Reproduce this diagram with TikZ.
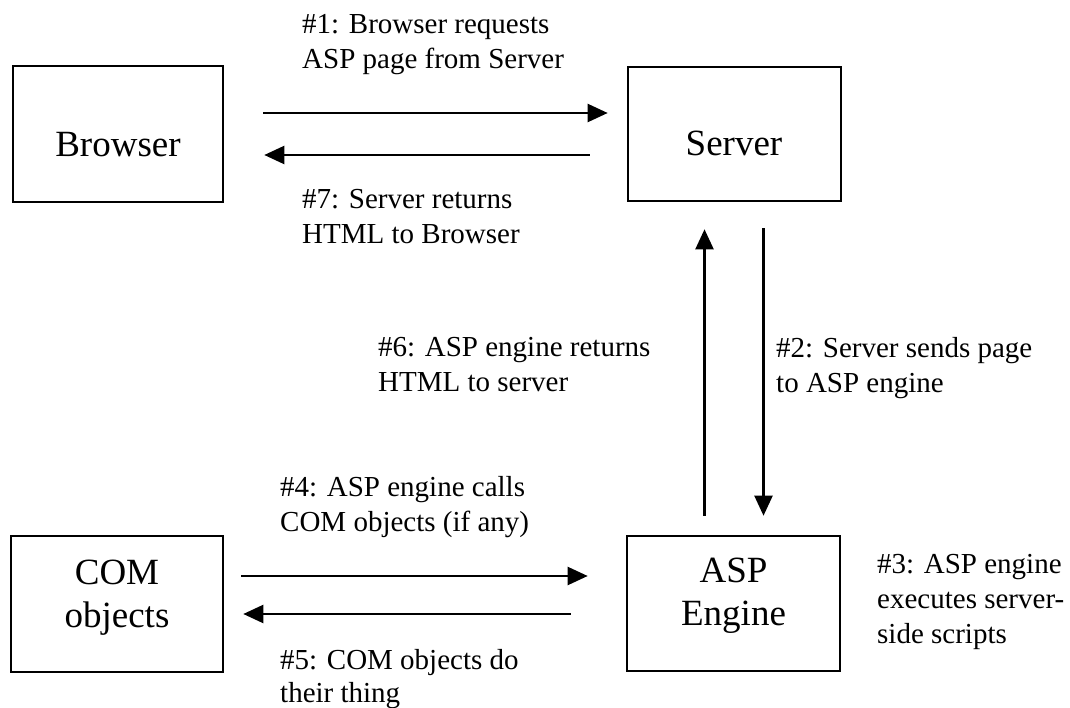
\documentclass[tikz,border=0pt]{standalone}
\usepackage{fontspec}
\setmainfont{Liberation Serif}
\usetikzlibrary{arrows.meta}
\begin{document}
\begin{tikzpicture}[x=1pt,y=-1pt,
  box/.style={draw, line width=2.6pt, inner sep=0pt},
  boxtxt/.style={font=\fontsize{37}{43}\selectfont, align=center, inner sep=0pt},
  note/.style={font=\fontsize{29}{35}\selectfont, align=left, inner sep=0pt, anchor=north west},
  arr/.style={-{Triangle[length=20pt,width=18pt]}, line width=2.2pt}]
\useasboundingbox (0,0) rectangle (1070,708);
\fill[white] (0,0) rectangle (1070,708);
% boxes
\node[box, minimum width=210pt, minimum height=136pt] (browser) at (118,134) {};
\node[box, minimum width=213pt, minimum height=134pt] (server) at (734.5,134) {};
\node[box, minimum width=212pt, minimum height=136pt] (com) at (117,604) {};
\node[box, minimum width=213pt, minimum height=135pt] (asp) at (733.5,603.5) {};
% box labels
\node[boxtxt] (browserlbl) at (118,145) {Browser};
\node[boxtxt] (serverlbl) at (734,143) {Server};
\node[boxtxt, anchor=north] (comlbl) at (117,560) {COM\\objects};
\node[boxtxt, anchor=north] (asplbl) at (733.5,557.5) {ASP\\Engine};
% arrows
\draw[arr] ([xshift=39pt,yshift=21pt]browser.east) -- ([xshift=-19pt,yshift=21pt]server.west);
\draw[arr] ([xshift=-37pt,yshift=-21pt]server.west) -- ([xshift=40pt,yshift=-21pt]browser.east);
\draw[arr] ([xshift=-29pt,yshift=19pt]asp.north) -- ([xshift=-30pt,yshift=-27pt]server.south);
\draw[arr] ([xshift=29pt,yshift=-26pt]server.south) -- ([xshift=30pt,yshift=19pt]asp.north);
\draw[arr] ([xshift=17pt,yshift=28pt]com.east) -- ([xshift=-38pt,yshift=27.5pt]asp.west);
\draw[arr] ([xshift=-55pt,yshift=-10.5pt]asp.west) -- ([xshift=19pt,yshift=-10pt]com.east);
% step texts
\node[note] (s1) at (302,14.5) {\#1: Browser requests\\ASP page from Server};
\node[note] (s7) at (302,189.5) {\#7: Server returns\\HTML to Browser};
\node[note] (s6) at (378,337.5) {\#6: ASP engine returns\\HTML to server};
\node[note] (s2) at (776,337.5) {\#2: Server sends page\\to ASP engine};
\node[note] (s4) at (280,476.5) {\#4: ASP engine calls\\COM objects (if any)};
\node[note, font=\fontsize{29}{33}\selectfont] (s5) at (280,649) {\#5: COM objects do\\their thing};
\node[note] (s3) at (877,554.5) {\#3: ASP engine\\executes server-\\side scripts};
\end{tikzpicture}
\end{document}
